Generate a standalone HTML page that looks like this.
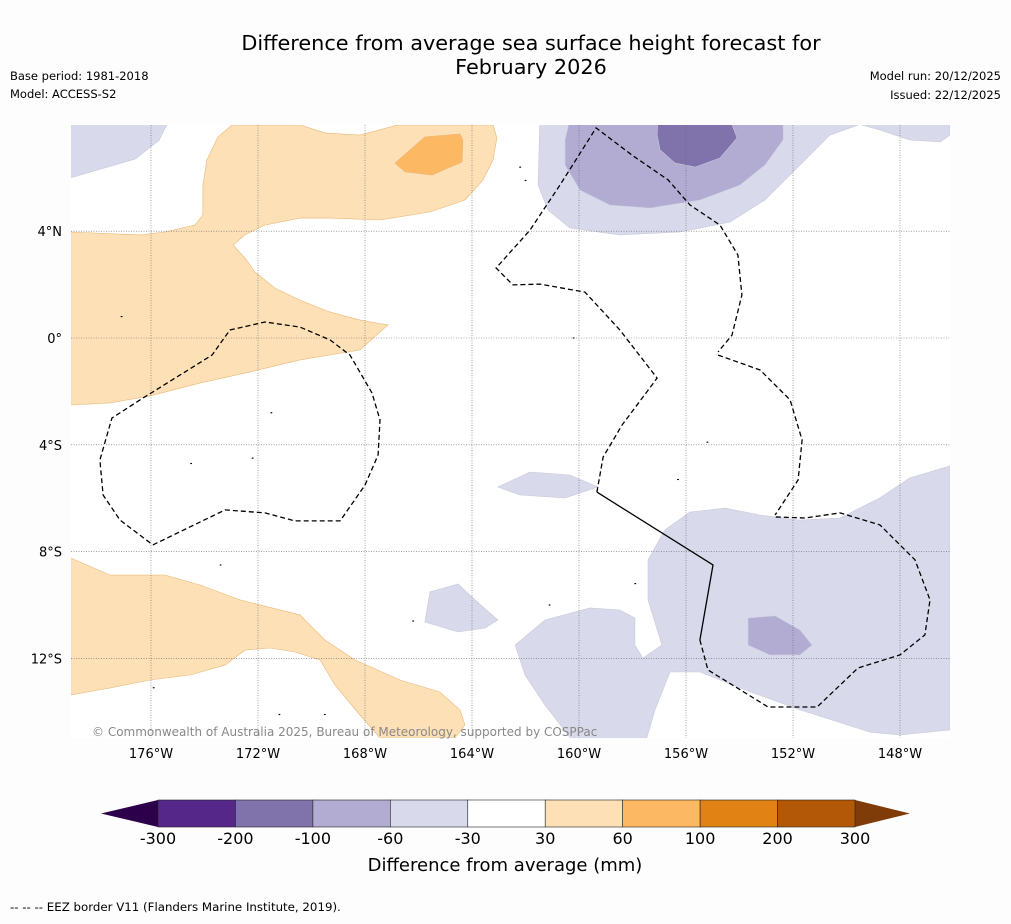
<!DOCTYPE html>
<html><head><meta charset="utf-8">
<style>
html,body{margin:0;padding:0;background:#fdfdfd;}
body{width:1011px;height:919px;overflow:hidden;font-family:"Liberation Sans","DejaVu Sans",sans-serif;}
svg text{font-family:"DejaVu Sans","Liberation Sans",sans-serif;}
</style></head>
<body>
<svg id="chart" width="1011" height="919" xmlns="http://www.w3.org/2000/svg">
<rect x="0" y="0" width="1011" height="919" fill="#fdfdfd"/>
<text x="531" y="50" font-size="20.8" text-anchor="middle" fill="#000">Difference from average sea surface height forecast for</text>
<text x="531" y="74" font-size="20.8" text-anchor="middle" fill="#000">February 2026</text>
<text x="10" y="80" font-size="11.5" fill="#000">Base period: 1981-2018</text>
<text x="10" y="98" font-size="11.5" fill="#000">Model: ACCESS-S2</text>
<text x="1001" y="80" font-size="11.5" text-anchor="end" fill="#000">Model run: 20/12/2025</text>
<text x="1001" y="99" font-size="11.5" text-anchor="end" fill="#000">Issued: 22/12/2025</text>
<defs><clipPath id="mapclip"><rect x="71" y="125" width="879" height="613"/></clipPath></defs>
<rect x="71" y="125" width="879" height="613" fill="#ffffff"/>
<g id="fills" clip-path="url(#mapclip)"></g>
<g id="grid" clip-path="url(#mapclip)"></g>
<g id="eez" clip-path="url(#mapclip)"></g>
<g id="islands" clip-path="url(#mapclip)"></g>
<text x="92" y="736" font-size="12" fill="#888">© Commonwealth of Australia 2025, Bureau of Meteorology, supported by COSPPac</text>
<g id="axes"></g>
<g id="colorbar"></g>
<text x="505" y="871" font-size="18" text-anchor="middle" fill="#000">Difference from average (mm)</text>
<text x="10" y="911" font-size="11.8" fill="#000">--  --  -- EEZ border V11 (Flanders Marine Institute, 2019).</text>
</svg>
<script>
const NS="http://www.w3.org/2000/svg";
const lonTicks=[-176,-172,-168,-164,-160,-156,-152,-148];
const lonLabels=["176°W","172°W","168°W","164°W","160°W","156°W","152°W","148°W"];
const latTicks=[4,0,-4,-8,-12];
const latLabels=["4°N","0°","4°S","8°S","12°S"];
const cbBounds=[-300,-200,-100,-60,-30,30,60,100,200,300];
const cbColors=["#542788","#8073ac","#b2abd2","#d8daeb","#ffffff","#fee0b6","#fdb863","#e08214","#b35806"];
const cbLow="#2d004b", cbHigh="#7f3b08";
const cL="#d8daeb", cM="#b2abd2", cD="#8073ac", oL="#fee0b6", oM="#fdb863";
const regions=[
 {name:"lavender-northwest",color:cL,pts:[[-179,8],[-175.4,8],[-175.7,7.4],[-176.6,6.7],[-179,6]]},
 {name:"orange-north-band",color:oL,pts:[[-179,3.97],[-176.41,3.86],[-175.48,3.97],[-174.36,4.23],[-174.06,4.61],[-174.06,5.73],[-173.91,6.67],[-173.5,7.53],[-172.97,7.98],[-170.43,7.98],[-169.5,7.68],[-168.19,7.6],[-166.77,7.98],[-163.21,7.98],[-163.07,7.49],[-163.21,6.67],[-163.59,5.92],[-164.26,5.17],[-165.57,4.72],[-167.44,4.42],[-169.31,4.49],[-170.43,4.49],[-171.74,4.23],[-172.49,3.86],[-172.93,3.48],[-172.49,3.0],[-172.11,2.47],[-171.36,1.87],[-170.43,1.42],[-169.31,0.97],[-168.19,0.67],[-167.14,0.49],[-168.19,-0.45],[-170.43,-0.82],[-172.3,-1.27],[-174.17,-1.69],[-176.04,-2.17],[-177.53,-2.43],[-179,-2.51]]},
 {name:"orange-north-core",color:oM,pts:[[-166.88,6.55],[-165.76,7.53],[-164.45,7.64],[-164.34,7.42],[-164.37,6.59],[-165.5,6.1],[-166.5,6.22]]},
 {name:"orange-south-band",color:oL,pts:[[-179,-8.24],[-177.53,-8.88],[-175.48,-8.88],[-174.17,-9.25],[-172.67,-9.81],[-170.43,-10.37],[-169.5,-11.31],[-168.37,-12.06],[-166.69,-12.81],[-165.2,-13.26],[-164.45,-13.93],[-164.26,-14.49],[-164.64,-14.98],[-167.44,-14.98],[-168.19,-14.12],[-169.12,-13.0],[-169.68,-12.06],[-170.62,-11.76],[-171.55,-11.61],[-172.49,-11.69],[-173.23,-12.25],[-174.54,-12.62],[-176.04,-12.81],[-177.53,-13.11],[-179,-13.37]]},
 {name:"lavender-northeast",color:cL,pts:[[-161.46,8],[-149.5,8],[-148.75,7.79],[-147.63,7.42],[-146.5,7.34],[-146.13,7.6],[-146.13,8.2],[-161.46,8.2],[-161.53,5.73],[-161.16,4.79],[-160.34,4.12],[-158.47,3.86],[-156.22,3.97],[-154.36,4.34],[-153.05,5.17],[-151.74,6.48],[-150.62,7.6],[-149.5,8]]},
 {name:"lavender-northeast-mid",color:cM,pts:[[-160.34,8.2],[-152.37,8.2],[-152.37,7.42],[-153.05,6.48],[-153.98,5.73],[-155.48,5.17],[-157.35,4.87],[-158.84,4.98],[-159.96,5.54],[-160.52,6.48],[-160.52,7.42]]},
 {name:"lavender-northeast-dark",color:cD,pts:[[-157.05,8.2],[-154.36,8.2],[-154.09,7.49],[-154.73,6.74],[-155.66,6.4],[-156.41,6.55],[-156.97,7.04],[-157.08,7.6]]},
 {name:"lavender-central-patch",color:cL,pts:[[-163.03,-5.58],[-161.83,-5.02],[-160.34,-5.13],[-159.29,-5.58],[-160.52,-5.99],[-162.21,-5.88]]},
 {name:"lavender-south-blob",color:cL,pts:[[-165.57,-9.51],[-164.52,-9.21],[-163.89,-9.81],[-163.03,-10.56],[-163.51,-10.86],[-164.52,-11.01],[-165.76,-10.64]]},
 {name:"lavender-southeast",color:cL,pts:[[-162.39,-11.5],[-161.27,-10.56],[-159.59,-10.11],[-158.47,-10.19],[-157.91,-10.49],[-157.91,-11.5],[-157.61,-11.99],[-156.9,-11.5],[-157.42,-9.81],[-157.42,-8.31],[-156.79,-7.19],[-155.85,-6.52],[-154.54,-6.37],[-153.23,-6.63],[-151.74,-6.82],[-150.24,-6.74],[-148.75,-5.99],[-147.63,-5.24],[-146.13,-4.79],[-146.13,-14.68],[-148.0,-14.87],[-149.12,-14.76],[-151.74,-13.93],[-153.79,-13.18],[-155.48,-12.51],[-156.6,-12.51],[-157.16,-13.93],[-157.53,-15.2],[-160.15,-15.2],[-161.27,-13.75],[-162.02,-12.62]]},
 {name:"lavender-southeast-mid",color:cM,pts:[[-153.68,-10.49],[-152.67,-10.41],[-151.74,-10.94],[-151.29,-11.5],[-151.74,-11.87],[-152.86,-11.87],[-153.68,-11.5]]}
];
const eezLines=[
 {dash:true,pts:[[-175.93,-7.75],[-173.23,-6.44],[-171.74,-6.55],[-170.62,-6.85],[-168.93,-6.85],[-168.0,-5.51],[-167.51,-4.38],[-167.44,-3.07],[-167.74,-2.06],[-168.56,-0.64],[-169.31,-0.07],[-170.43,0.41],[-171.74,0.6],[-173.05,0.3],[-173.72,-0.64],[-174.92,-1.39],[-176.41,-2.32],[-177.46,-3.0],[-177.91,-4.57],[-177.79,-5.88],[-177.16,-6.82],[-175.93,-7.75]]},
 {dash:true,pts:[[-159.33,-5.77],[-159.1,-4.46],[-158.39,-3.26],[-157.08,-1.5],[-158.47,0.3],[-159.78,1.72],[-161.46,2.02],[-162.47,1.99],[-163.1,2.62],[-161.83,4.04],[-160.71,5.73],[-159.36,7.87],[-158.02,6.85],[-156.67,5.92],[-155.85,4.98],[-154.73,4.23],[-154.06,3.11],[-153.91,1.61],[-154.28,0.11],[-154.8,-0.52]]},
 {dash:true,pts:[[-154.8,-0.64],[-153.23,-1.2],[-152.11,-2.32],[-151.66,-3.82],[-151.81,-5.32],[-152.67,-6.63]]},
 {dash:false,pts:[[-159.33,-5.77],[-154.99,-8.5],[-155.48,-11.31]]},
 {dash:true,pts:[[-155.48,-11.31],[-155.18,-12.43],[-152.93,-13.82],[-151.1,-13.82],[-149.57,-12.36],[-148.0,-11.87],[-147.07,-11.12],[-146.88,-9.81],[-147.44,-8.31],[-148.75,-7.0],[-150.24,-6.55],[-151.55,-6.74],[-152.67,-6.7]]}
];
const islands=[[-175.9,-13.1],[-171.5,-2.8],[-172.2,-4.5],[-174.5,-4.7],[-156.3,-5.3],[-157.9,-9.2],[-161.1,-10.0],[-155.2,-3.9],[-162.2,6.4],[-162.0,5.9],[-160.2,0.0],[-177.1,0.8],[-173.4,-8.5],[-166.2,-10.6],[-171.2,-14.1],[-169.5,-14.1]];
const X=lon=>151+(lon+176)*26.75;
const Y=lat=>338-lat*26.7;
const ptsStr=a=>a.map(p=>X(p[0]).toFixed(1)+","+Y(p[1]).toFixed(1)).join(" ");
const fills=document.getElementById("fills");
regions.forEach(r=>{
 const el=document.createElementNS(NS,"polygon");
 el.setAttribute("points",ptsStr(r.pts));
 el.setAttribute("fill",r.color);
 el.setAttribute("stroke",r.color==oL||r.color==oM?"#e8b878":"#c8c8dc");
 el.setAttribute("stroke-width","0.6");
 
 
 fills.appendChild(el);
});
const grid=document.getElementById("grid"), axes=document.getElementById("axes");
lonTicks.forEach((t,i)=>{
 const l=document.createElementNS(NS,"line");
 l.setAttribute("x1",X(t));l.setAttribute("x2",X(t));l.setAttribute("y1",125);l.setAttribute("y2",738);
 l.setAttribute("stroke","#666");l.setAttribute("stroke-width","0.6");l.setAttribute("stroke-dasharray","1,1.5");
 
 
 grid.appendChild(l);
 const tx=document.createElementNS(NS,"text");
 tx.setAttribute("x",X(t));tx.setAttribute("y",758);tx.setAttribute("font-size","13");tx.setAttribute("text-anchor","middle");
 tx.textContent=lonLabels[i];
 
 
 axes.appendChild(tx);
});
latTicks.forEach((t,i)=>{
 const l=document.createElementNS(NS,"line");
 l.setAttribute("x1",71);l.setAttribute("x2",950);l.setAttribute("y1",Y(t));l.setAttribute("y2",Y(t));
 l.setAttribute("stroke","#666");l.setAttribute("stroke-width","0.6");l.setAttribute("stroke-dasharray","1,1.5");
 
 
 grid.appendChild(l);
 const tx=document.createElementNS(NS,"text");
 tx.setAttribute("x",62);tx.setAttribute("y",Y(t)+5);tx.setAttribute("font-size","13");tx.setAttribute("text-anchor","end");
 tx.textContent=latLabels[i];
 
 
 axes.appendChild(tx);
});
const eez=document.getElementById("eez");
eezLines.forEach(e=>{
 const p=document.createElementNS(NS,"polyline");
 p.setAttribute("points",ptsStr(e.pts));
 p.setAttribute("fill","none");p.setAttribute("stroke","#000");p.setAttribute("stroke-width","1.3");
 if(e.dash)p.setAttribute("stroke-dasharray","5,3");
 
 
 eez.appendChild(p);
});
const isl=document.getElementById("islands");
islands.forEach(s=>{
 const c=document.createElementNS(NS,"ellipse");
 c.setAttribute("cx",X(s[0]));c.setAttribute("cy",Y(s[1]));c.setAttribute("rx",1);c.setAttribute("ry",0.6);
 c.setAttribute("fill","#000");
 
 
 isl.appendChild(c);
});
// colorbar
const cb=document.getElementById("colorbar");
const cbX0=158,cbX1=855,cbY=800,cbH=27,segW=(cbX1-cbX0)/cbColors.length;
const lowT=document.createElementNS(NS,"polygon");
lowT.setAttribute("points",`101,${cbY+cbH/2} ${cbX0},${cbY} ${cbX0},${cbY+cbH}`);
lowT.setAttribute("fill",cbLow);


cb.appendChild(lowT);
const hiT=document.createElementNS(NS,"polygon");
hiT.setAttribute("points",`910,${cbY+cbH/2} ${cbX1},${cbY} ${cbX1},${cbY+cbH}`);
hiT.setAttribute("fill",cbHigh);


cb.appendChild(hiT);
cbColors.forEach((c,i)=>{
 const r=document.createElementNS(NS,"rect");
 r.setAttribute("x",cbX0+i*segW);r.setAttribute("y",cbY);r.setAttribute("width",segW);r.setAttribute("height",cbH);
 r.setAttribute("fill",c);r.setAttribute("stroke","#222");r.setAttribute("stroke-width","0.6");
 
 
 cb.appendChild(r);
});
cbBounds.forEach((b,i)=>{
 const t=document.createElementNS(NS,"text");
 t.setAttribute("x",cbX0+i*segW);t.setAttribute("y",844);t.setAttribute("font-size","16");t.setAttribute("text-anchor","middle");
 t.textContent=String(b);
 
 
 cb.appendChild(t);
});
</script>
</body></html>
